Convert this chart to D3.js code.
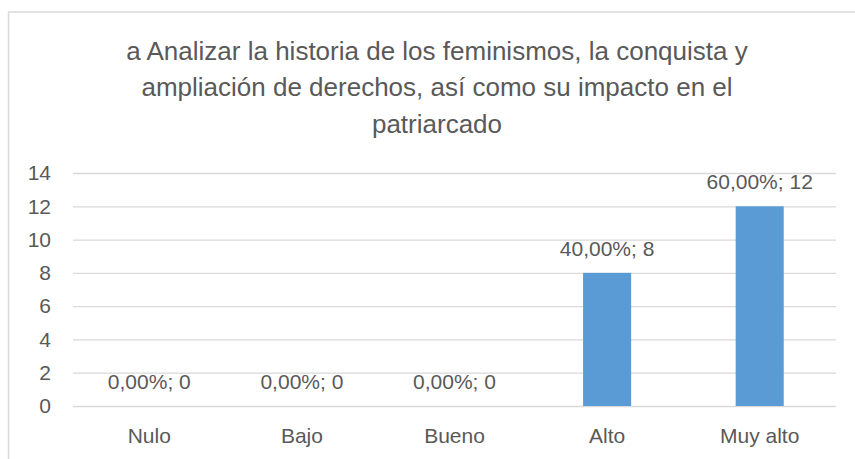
<!DOCTYPE html>
<html>
<head>
<meta charset="utf-8">
<script src="https://cdn.jsdelivr.net/npm/d3@7"></script>
<style>
  html, body { margin: 0; padding: 0; background: #fff; }
  svg { display: block; }
  text { font-family: "Liberation Sans", Arial, sans-serif; fill: #595959; }
</style>
</head>
<body>
<svg id="chart" width="855" height="459"></svg>
<script>
const titleLines = [
  "a Analizar la historia de los feminismos, la conquista y",
  "ampliación de derechos, así como su impacto en el",
  "patriarcado"
];
const categories = ["Nulo", "Bajo", "Bueno", "Alto", "Muy alto"];
const values = [0, 0, 0, 8, 12];
const percentLabels = ["0,00%", "0,00%", "0,00%", "40,00%", "60,00%"];
const yTicks = [0, 2, 4, 6, 8, 10, 12, 14];

const svg = d3.select("#chart");

// outer chart border (extends beyond the right/bottom edges)
svg.append("rect")
  .attr("x", 8.5).attr("y", 12)
  .attr("width", 900).attr("height", 500)
  .attr("fill", "#fff")
  .attr("stroke", "#d9d9d9")
  .attr("stroke-width", 1.5);

// title
svg.append("g").selectAll("text")
  .data(titleLines)
  .join("text")
  .attr("x", 437)
  .attr("y", (d, i) => 60 + i * 36.3)
  .attr("text-anchor", "middle")
  .attr("font-size", 26)
  .text(d => d);

const plot = { left: 73, right: 836, top: 173, bottom: 406 };

const x = d3.scaleBand()
  .domain(categories)
  .range([plot.left, plot.right])
  .paddingInner(0.685)
  .paddingOuter(0.3425);

const y = d3.scaleLinear()
  .domain([0, 14])
  .range([plot.bottom, plot.top]);

// gridlines
svg.append("g").selectAll("line")
  .data(yTicks)
  .join("line")
  .attr("x1", plot.left).attr("x2", plot.right)
  .attr("y1", d => y(d) + 0.5).attr("y2", d => y(d) + 0.5)
  .attr("stroke", "#d9d9d9")
  .attr("stroke-width", 1.3);

// y axis labels
const yAxis = d3.axisLeft(y).tickValues(yTicks).tickSize(0).tickPadding(0);
const gy = svg.append("g")
  .attr("transform", `translate(51,0)`)
  .call(yAxis);
gy.select(".domain").remove();
gy.selectAll("text")
  .attr("font-size", 21)
  .attr("fill", "#595959")
  .style("font-family", '"Liberation Sans", Arial, sans-serif');

// x axis labels
const xAxis = d3.axisBottom(x).tickSize(0).tickPadding(0);
const gx = svg.append("g")
  .attr("transform", `translate(0,${plot.bottom})`)
  .call(xAxis);
gx.select(".domain").remove();
gx.selectAll("text")
  .attr("dy", null)
  .attr("y", 37)
  .attr("font-size", 21)
  .attr("fill", "#595959")
  .style("font-family", '"Liberation Sans", Arial, sans-serif');

const data = categories.map((c, i) => ({ c, v: values[i], p: percentLabels[i] }));

// bars
svg.append("g").selectAll("rect")
  .data(data)
  .join("rect")
  .attr("x", d => x(d.c))
  .attr("y", d => y(d.v))
  .attr("width", x.bandwidth())
  .attr("height", d => y(0) - y(d.v))
  .attr("fill", "#5b9bd5");

// data labels
svg.append("g").selectAll("text")
  .data(data)
  .join("text")
  .attr("x", d => x(d.c) + x.bandwidth() / 2)
  .attr("y", d => y(d.v) - 17)
  .attr("text-anchor", "middle")
  .attr("font-size", 21)
  .text(d => `${d.p}; ${d.v}`);
</script>
</body>
</html>
